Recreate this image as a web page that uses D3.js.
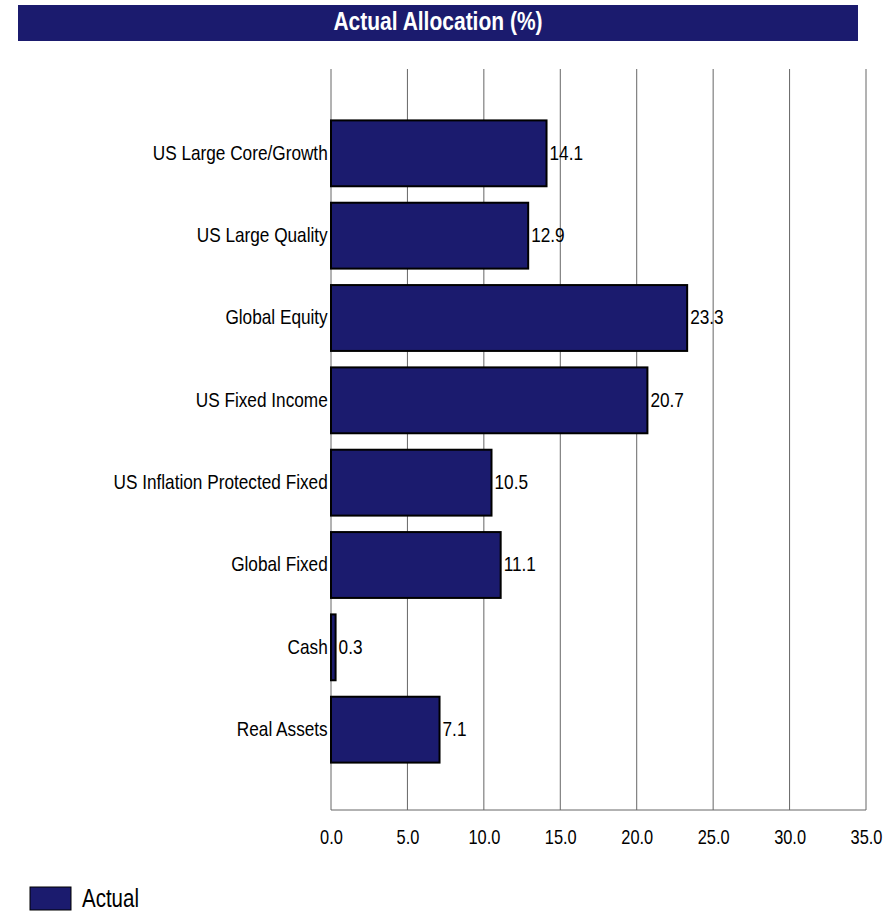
<!DOCTYPE html>
<html lang="en">
<head>
  <meta charset="UTF-8">
  <title>Actual Allocation (%)</title>
  <script src="https://d3js.org/d3.v7.min.js"></script>
  <style>
    body { margin: 0; background: #fff; }
    svg { display: block; font-family: 'Liberation Sans', Arial, sans-serif; }
  </style>
</head>
<body>
  <div id="chart"></div>
  <script>
    const categories = ["US Large Core/Growth", "US Large Quality", "Global Equity", "US Fixed Income",
      "US Inflation Protected Fixed", "Global Fixed", "Cash", "Real Assets"];
    const actual = [14.1, 12.9, 23.3, 20.7, 10.5, 11.1, 0.3, 7.1];
    const xTicks = [0, 5, 10, 15, 20, 25, 30, 35];

    const navy = "#1b1b6e";
    const width = 884, height = 911;
    const plot = { left: 331, right: 866, top: 69, bottom: 810 };
    const narrow = 0.82; // squeeze to look like a narrow face

    const svg = d3.select("#chart").append("svg")
      .attr("width", width)
      .attr("height", height);

    // title bar
    svg.append("rect")
      .attr("x", 18).attr("y", 5)
      .attr("width", 840).attr("height", 36)
      .attr("fill", navy);
    svg.append("text")
      .attr("transform", `translate(438,30) scale(0.84,1)`)
      .attr("text-anchor", "middle")
      .attr("fill", "#fff")
      .style("font-size", "25px")
      .style("font-weight", "bold")
      .text("Actual Allocation (%)");

    const x = d3.scaleLinear().domain([0, 35]).range([plot.left, plot.right]);
    const y = d3.scaleBand().domain(categories)
      .range([plot.top + 2, plot.bottom + 2])
      .paddingInner(0.2).paddingOuter(0.6);

    // grid
    svg.append("g").selectAll("line")
      .data(xTicks)
      .join("line")
      .attr("x1", d => x(d)).attr("x2", d => x(d))
      .attr("y1", plot.top).attr("y2", plot.bottom)
      .attr("stroke", "#666").attr("stroke-width", 1);

    svg.append("line")
      .attr("x1", plot.left).attr("x2", plot.right)
      .attr("y1", plot.bottom).attr("y2", plot.bottom)
      .attr("stroke", "#666");

    // x axis labels
    const xAxis = d3.axisBottom(x).tickValues(xTicks).tickFormat(d3.format(".1f")).tickSize(0).tickPadding(20);
    const gx = svg.append("g")
      .attr("transform", `translate(0,${plot.bottom})`)
      .call(xAxis);
    gx.select(".domain").remove();
    gx.selectAll("text")
      .attr("fill", "#000")
      .attr("transform", `scale(${narrow},1)`)
      .style("font-size", "20px")
      .style("font-family", "'Liberation Sans', Arial, sans-serif");

    // y axis labels
    const yAxis = d3.axisLeft(y).tickSize(0).tickPadding(4);
    const gy = svg.append("g")
      .attr("transform", `translate(${plot.left},0)`)
      .call(yAxis);
    gy.select(".domain").remove();
    gy.selectAll("text")
      .attr("fill", "#000")
      .attr("dy", "0.3em")
      .attr("transform", `scale(${narrow},1)`)
      .style("font-size", "21px")
      .style("font-family", "'Liberation Sans', Arial, sans-serif");

    const data = categories.map((c, i) => ({ cat: c, val: actual[i] }));

    svg.append("g").selectAll("rect")
      .data(data)
      .join("rect")
      .attr("x", x(0))
      .attr("y", d => y(d.cat))
      .attr("width", d => x(d.val) - x(0))
      .attr("height", y.bandwidth())
      .attr("fill", navy)
      .attr("stroke", "#000")
      .attr("stroke-width", 2);

    svg.append("g").selectAll("text")
      .data(data)
      .join("text")
      .attr("transform", d => `translate(${x(d.val) + 3},${y(d.cat) + y.bandwidth() / 2}) scale(${narrow},1)`)
      .attr("dy", "0.3em")
      .style("font-size", "21px")
      .attr("fill", "#000")
      .text(d => d3.format(".1f")(d.val));

    // legend
    svg.append("rect")
      .attr("x", 30).attr("y", 887)
      .attr("width", 41).attr("height", 23)
      .attr("fill", navy)
      .attr("stroke", "#000").attr("stroke-width", 1);
    svg.append("text")
      .attr("transform", `translate(82,907) scale(${narrow},1)`)
      .style("font-size", "25px")
      .attr("fill", "#000")
      .text("Actual");
  </script>
</body>
</html>
